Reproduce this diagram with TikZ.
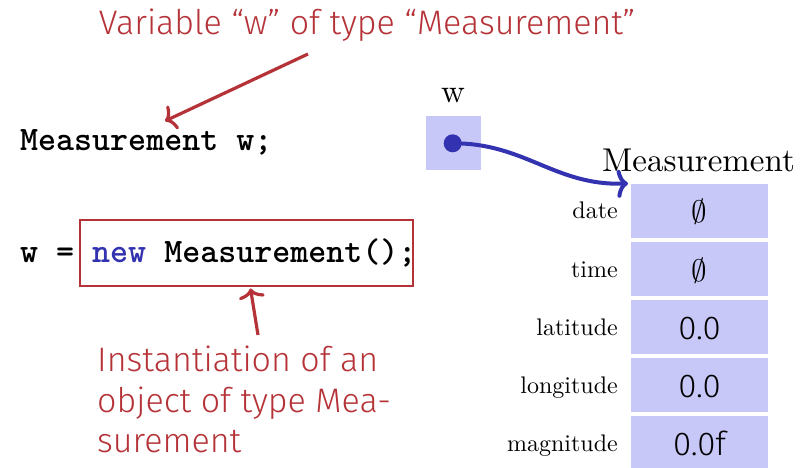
\RequirePackage{fix-cm}
\documentclass[tikz,border=0pt]{standalone}
\usepackage{fontspec}
\newfontfamily\fira{Fira Sans Light}
\newfontfamily\lmten{lmroman10-regular}[Extension=.otf]
\usetikzlibrary{arrows.meta}
\definecolor{redc}{RGB}{181,51,56}
\definecolor{bluec}{RGB}{51,51,178}
\definecolor{cellc}{RGB}{200,200,248}
\tikzset{
  redtxt/.style={inner sep=0pt, text=redc, font=\fira\fontsize{34}{40}\selectfont},
  code/.style={inner sep=0pt, font=\ttfamily\bfseries\fontsize{34.3}{40}\selectfont},
  redarrow/.style={draw=redc, line width=3.2pt, -{To[length=10pt,width=26pt]}},
  bluearrow/.style={draw=bluec, line width=4pt, -{To[length=11pt,width=28pt]}},
  cell/.style={fill=cellc, inner sep=0pt, minimum width=137pt, minimum height=54pt},
  field/.style={inner sep=0pt, anchor=base east, font=\lmten\fontsize{24}{28}\selectfont},
  val/.style={inner sep=0pt, anchor=base, font=\fira\fontsize{33}{40}\selectfont},
  bigl/.style={inner sep=0pt, anchor=base, font=\lmten\fontsize{33}{40}\selectfont},
}
\newcommand{\emset}{{\fontsize{31}{36}\selectfont$\emptyset$}}
\begin{document}
\begin{tikzpicture}[x=1pt,y=-1pt]
\useasboundingbox (0,0) rectangle (807,468);
% left side
\node[redtxt, anchor=base] (title) at (367,35) {Variable “w” of type “Measurement”};
\node[code, anchor=base west] (decl) at (20,151) {Measurement w;};
\node[code, anchor=base west] (assign) at (20,262) {w = {\color{bluec}new} Measurement();};
\node[draw=redc, line width=2.8pt, inner sep=0pt, minimum width=333pt, minimum height=66pt] (newbox) at (246.5,253) {};
\node[redtxt, anchor=base west] (inst1) at (97,371) {Instantiation of an};
\node[redtxt, anchor=base west] (inst2) at (97,412) {object of type Mea-};
\node[redtxt, anchor=base west] (inst3) at (97,452) {surement};
\coordinate (t1s) at (308,54);
\coordinate (t1e) at (165,121);
\draw[redarrow] (t1s) -- (t1e);
\coordinate (t2s) at (258,335);
\coordinate (t2e) at (250.5,288.5);
\draw[redarrow] (t2s) -- (t2e);
% right side
\node[bigl] (wl) at (453,103) {w};
\node[fill=cellc, inner sep=0pt, minimum width=55pt, minimum height=54pt] (wbox) at (453.5,143) {};
\fill[bluec] (452.7,143.3) circle (9pt) coordinate (dot);
\node[bigl] (mlab) at (698.5,172) {Measurement};
\foreach \n/\lab/\v/\y in {date/date/\emset/211, time/time/\emset/269, lat/latitude/0.0/327, lon/longitude/0.0/385, mag/magnitude/0.0f/443}{
  \node[cell] (\n) at (699.5,\y) {};
  \node[field] (\n-l) at (618,\y+8) {\lab};
  \node[val] (\n-v) at (699.5,\y+12) {\v};
}
\coordinate (tip) at (628,183.5);
\draw[bluearrow] (dot) .. controls (525,143) and (555,186) .. (tip);
\end{tikzpicture}
\end{document}
